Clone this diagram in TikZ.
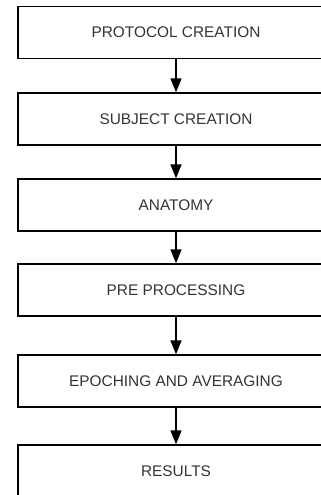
\documentclass[tikz,border=0pt]{standalone}
\usepackage{fontspec}
\setmainfont{Liberation Sans}
\usetikzlibrary{arrows.meta}
\begin{document}
\begin{tikzpicture}[x=1pt,y=1pt,every node/.style={font=\fontsize{15.4}{18}\selectfont},
  stage/.style={draw, line width=1.3pt, minimum width=316pt, minimum height=52pt, inner sep=0pt, text=black!80},
  flow/.style={-{Triangle[length=14pt,width=11pt]}, line width=1.3pt}]
\useasboundingbox (0,0) rectangle (321,-495);
\clip (0,0) rectangle (321,-495);
\node[stage] (protocol) at (176,-32.5) {PROTOCOL CREATION};
\node[stage] (subject) at (176,-119) {SUBJECT CREATION};
\node[stage] (anatomy) at (176,-205) {ANATOMY};
\node[stage] (preproc) at (176,-290) {PRE PROCESSING};
\node[stage] (epoching) at (176,-381) {EPOCHING AND AVERAGING};
\node[stage] (results) at (176,-471) {RESULTS};

\draw[flow] (protocol) -- (subject);
\draw[flow] (subject) -- (anatomy);
\draw[flow] (anatomy) -- (preproc);
\draw[flow] (preproc) -- (epoching);
\draw[flow] (epoching) -- (results);
\end{tikzpicture}
\end{document}
